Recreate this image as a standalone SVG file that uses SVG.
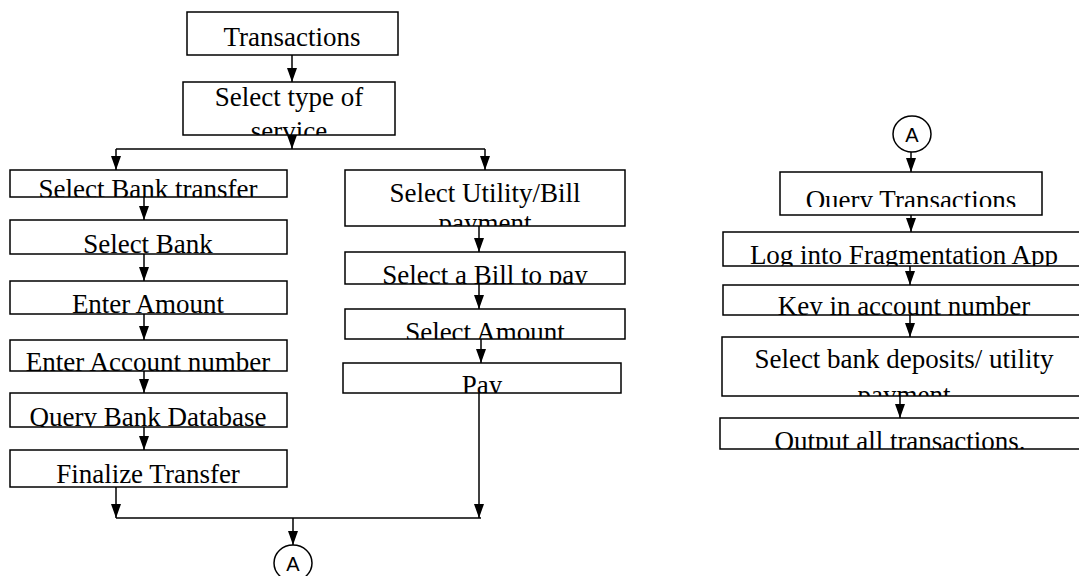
<svg xmlns="http://www.w3.org/2000/svg" width="1079" height="576" viewBox="0 0 1079 576">
<style>
.box{fill:#fff;stroke:#000;stroke-width:1.5}
.t{font-family:"Liberation Serif","Times New Roman",serif;font-size:27px;fill:#000;text-anchor:middle}
.a{font-family:"Liberation Sans",Arial,sans-serif;font-size:20px;fill:#000;text-anchor:middle}
.c{fill:#fff;stroke:#000;stroke-width:1.5}
.ln{fill:none;stroke:#000;stroke-width:1.5}
</style>
<defs>
<marker id="ah" markerUnits="userSpaceOnUse" markerWidth="14" markerHeight="10" refX="14" refY="5" orient="auto" viewBox="0 0 14 10">
<path d="M0,0 L14,5 L0,10 z" fill="#000"/>
</marker>
<clipPath id="c1"><rect x="187" y="12" width="211" height="43"/></clipPath>
<clipPath id="c2"><rect x="183" y="82" width="212" height="53"/></clipPath>
<clipPath id="c3"><rect x="10" y="170" width="277" height="27"/></clipPath>
<clipPath id="c4"><rect x="10" y="220" width="277" height="34"/></clipPath>
<clipPath id="c5"><rect x="10" y="281" width="277" height="33"/></clipPath>
<clipPath id="c6"><rect x="10" y="340" width="277" height="31"/></clipPath>
<clipPath id="c7"><rect x="10" y="393" width="277" height="34"/></clipPath>
<clipPath id="c8"><rect x="10" y="450" width="277" height="37"/></clipPath>
<clipPath id="c9"><rect x="345" y="170" width="280" height="56"/></clipPath>
<clipPath id="c10"><rect x="345" y="252" width="280" height="32"/></clipPath>
<clipPath id="c11"><rect x="345" y="309" width="280" height="30"/></clipPath>
<clipPath id="c12"><rect x="343" y="363" width="278" height="30"/></clipPath>
<clipPath id="c13"><rect x="780" y="172" width="262" height="35"/></clipPath>
<clipPath id="c14"><rect x="723" y="232" width="360" height="34"/></clipPath>
<clipPath id="c15"><rect x="723" y="285" width="360" height="30"/></clipPath>
<clipPath id="c16"><rect x="722" y="337" width="360" height="59"/></clipPath>
<clipPath id="c17"><rect x="720" y="418" width="362" height="31"/></clipPath>
</defs>
<rect width="1079" height="576" fill="#fff"/>

<g id="n-transactions"><rect class="box" x="187" y="12" width="211" height="43"/><text class="t" x="292" y="46" clip-path="url(#c1)">Transactions</text></g>
<g id="n-select-type"><rect class="box" x="183" y="82" width="212" height="53"/><text class="t" x="289" y="106" clip-path="url(#c2)"><tspan x="289">Select type of</tspan><tspan x="289" dy="34">service</tspan></text></g>

<g id="n-bank-transfer"><rect class="box" x="10" y="170" width="277" height="27"/><text class="t" x="148" y="198" clip-path="url(#c3)">Select Bank transfer</text></g>
<g id="n-select-bank"><rect class="box" x="10" y="220" width="277" height="34"/><text class="t" x="148" y="253" clip-path="url(#c4)">Select Bank</text></g>
<g id="n-enter-amount"><rect class="box" x="10" y="281" width="277" height="33"/><text class="t" x="148" y="313" clip-path="url(#c5)">Enter Amount</text></g>
<g id="n-enter-account"><rect class="box" x="10" y="340" width="277" height="31"/><text class="t" x="148" y="371" clip-path="url(#c6)">Enter Account number</text></g>
<g id="n-query-bank"><rect class="box" x="10" y="393" width="277" height="34"/><text class="t" x="148" y="426" clip-path="url(#c7)">Query Bank Database</text></g>
<g id="n-finalize"><rect class="box" x="10" y="450" width="277" height="37"/><text class="t" x="148" y="483" clip-path="url(#c8)">Finalize Transfer</text></g>

<g id="n-utility"><rect class="box" x="345" y="170" width="280" height="56"/><text class="t" x="485" y="202" clip-path="url(#c9)"><tspan x="485">Select Utility/Bill</tspan><tspan x="485" dy="30">payment</tspan></text></g>
<g id="n-select-bill"><rect class="box" x="345" y="252" width="280" height="32"/><text class="t" x="485" y="284" clip-path="url(#c10)">Select a Bill to pay</text></g>
<g id="n-select-amount"><rect class="box" x="345" y="309" width="280" height="30"/><text class="t" x="485" y="341" clip-path="url(#c11)">Select Amount</text></g>
<g id="n-pay"><rect class="box" x="343" y="363" width="278" height="30"/><text class="t" x="482" y="394" clip-path="url(#c12)">Pay</text></g>

<g id="n-a-bottom"><ellipse class="c" cx="293" cy="563" rx="19" ry="18"/><text class="a" x="293" y="571">A</text></g>

<g id="n-a-top"><ellipse class="c" cx="912" cy="134" rx="19" ry="18"/><text class="a" x="912" y="142">A</text></g>
<g id="n-query-transactions"><rect class="box" x="780" y="172" width="262" height="43"/><text class="t" x="911" y="209" clip-path="url(#c13)">Query Transactions</text></g>
<g id="n-log-into"><rect class="box" x="723" y="232" width="370" height="34"/><text class="t" x="904" y="264" clip-path="url(#c14)">Log into Fragmentation App</text></g>
<g id="n-key-in"><rect class="box" x="723" y="285" width="370" height="30"/><text class="t" x="904" y="315" clip-path="url(#c15)">Key in account number</text></g>
<g id="n-select-deposits"><rect class="box" x="722" y="337" width="370" height="59"/><text class="t" x="904" y="368" clip-path="url(#c16)"><tspan x="904">Select bank deposits/ utility</tspan><tspan x="904" dy="36">payment</tspan></text></g>
<g id="n-output"><rect class="box" x="720" y="418" width="372" height="31"/><text class="t" x="900" y="450" clip-path="url(#c17)">Output all transactions.</text></g>

<g id="connectors" class="ln">
<path class="ln" d="M292,55 V82" marker-end="url(#ah)"/>
<path class="ln" d="M292,135 V149" marker-end="url(#ah)"/>
<path class="ln" d="M116,149 H485"/>
<path class="ln" d="M116,149 V170" marker-end="url(#ah)"/>
<path class="ln" d="M485,149 V170" marker-end="url(#ah)"/>
<path class="ln" d="M144,197 V220" marker-end="url(#ah)"/>
<path class="ln" d="M144,254 V281" marker-end="url(#ah)"/>
<path class="ln" d="M144,314 V340" marker-end="url(#ah)"/>
<path class="ln" d="M144,371 V393" marker-end="url(#ah)"/>
<path class="ln" d="M144,427 V450" marker-end="url(#ah)"/>
<path class="ln" d="M479,226 V252" marker-end="url(#ah)"/>
<path class="ln" d="M479,284 V309" marker-end="url(#ah)"/>
<path class="ln" d="M481,339 V363" marker-end="url(#ah)"/>
<path class="ln" d="M116,487 V518" marker-end="url(#ah)"/>
<path class="ln" d="M479,393 V518" marker-end="url(#ah)"/>
<path class="ln" d="M116,518 H481"/>
<path class="ln" d="M293,518 V545" marker-end="url(#ah)"/>
<path class="ln" d="M911,152 V172" marker-end="url(#ah)"/>
<path class="ln" d="M911,215 V232" marker-end="url(#ah)"/>
<path class="ln" d="M910,266 V285" marker-end="url(#ah)"/>
<path class="ln" d="M910,315 V337" marker-end="url(#ah)"/>
<path class="ln" d="M900,396 V418" marker-end="url(#ah)"/>
</g>
</svg>
